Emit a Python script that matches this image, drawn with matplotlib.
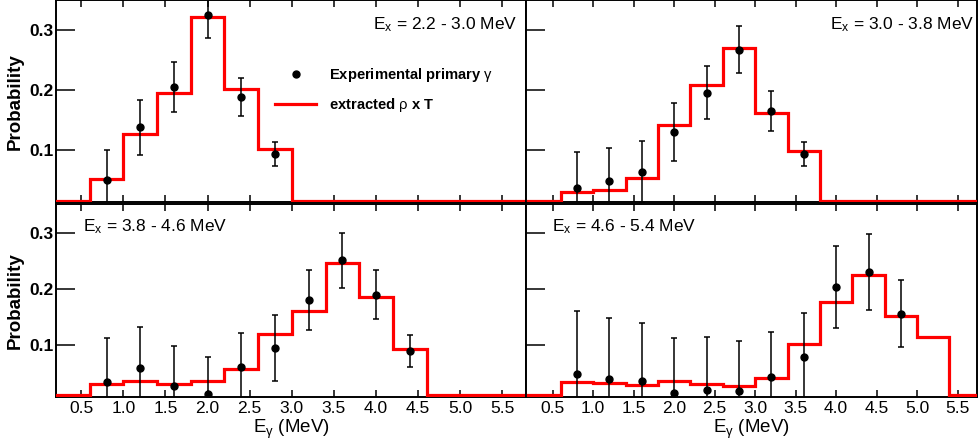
import matplotlib
matplotlib.use("Agg")
import matplotlib.pyplot as plt
from matplotlib.lines import Line2D
import numpy as np

plt.rcParams['font.family'] = ['Liberation Sans', 'DejaVu Sans']
plt.rcParams['mathtext.fontset'] = 'custom'
plt.rcParams['mathtext.rm'] = 'Liberation Sans'
plt.rcParams['mathtext.it'] = 'Liberation Sans:italic'
plt.rcParams['mathtext.bf'] = 'Liberation Sans:bold'

# bin edges of the extracted rho x T histograms (MeV)
edges = [0.2, 0.6, 1.0, 1.4, 1.8, 2.2, 2.6, 3.0, 3.4, 3.8, 4.2, 4.6, 5.0, 5.4, 5.8]

# Ex = 2.2 - 3.0 MeV
hist_a = [0, 0.051, 0.127, 0.195, 0.323, 0.202, 0.101, 0, 0, 0, 0, 0, 0, 0]
eg_a = [0.8, 1.2, 1.6, 2.0, 2.4, 2.8]
p_a = [0.050, 0.138, 0.205, 0.326, 0.188, 0.093]
err_a = [0.050, 0.046, 0.042, 0.039, 0.032, 0.020]

# Ex = 3.0 - 3.8 MeV
hist_b = [0, 0.030, 0.0325, 0.053, 0.142, 0.209, 0.270, 0.1625, 0.098, 0, 0, 0, 0, 0]
eg_b = [0.8, 1.2, 1.6, 2.0, 2.4, 2.8, 3.2, 3.6]
p_b = [0.036, 0.048, 0.063, 0.130, 0.196, 0.268, 0.165, 0.093]
err_b = [0.060, 0.056, 0.052, 0.048, 0.044, 0.040, 0.033, 0.020]

# Ex = 3.8 - 4.6 MeV
hist_c = [0, 0.031, 0.037, 0.031, 0.036, 0.058, 0.120, 0.1615, 0.247, 0.185, 0.093, 0, 0, 0]
eg_c = [0.8, 1.2, 1.6, 2.0, 2.4, 2.8, 3.2, 3.6, 4.0, 4.4]
p_c = [0.035, 0.060, 0.028, 0.0135, 0.061, 0.095, 0.180, 0.251, 0.190, 0.090]
err_c = [0.078, 0.073, 0.070, 0.065, 0.061, 0.058, 0.053, 0.049, 0.043, 0.029]

# Ex = 4.6 - 5.4 MeV
hist_d = [0, 0.034, 0.0325, 0.0295, 0.037, 0.031, 0.028, 0.041, 0.102, 0.177, 0.225, 0.1515, 0.115, 0]
eg_d = [0.8, 1.2, 1.6, 2.0, 2.4, 2.8, 3.2, 3.6, 4.0, 4.4, 4.8]
p_d = [0.048, 0.040, 0.037, 0.015, 0.021, 0.019, 0.044, 0.079, 0.203, 0.230, 0.156]
err_d = [0.113, 0.108, 0.102, 0.098, 0.093, 0.088, 0.080, 0.078, 0.073, 0.068, 0.060]

labels = ['2.2 - 3.0', '3.0 - 3.8', '3.8 - 4.6', '4.6 - 5.4']
xticks = [0.5, 1, 1.5, 2, 2.5, 3, 3.5, 4, 4.5, 5, 5.5]
yticks = [0.1, 0.2, 0.3]

W, H = 979, 447
fig = plt.figure(figsize=(W / 100, H / 100), dpi=100)

def px_axes(x0, x1, ytop, ybot):
    return fig.add_axes([x0 / W, 1 - ybot / H, (x1 - x0) / W, (ybot - ytop) / H])

axes = [px_axes(56, 526, 0, 202.5), px_axes(526, 977, 0, 202.5),
        px_axes(56, 526, 204, 397), px_axes(526, 977, 204, 397)]
xlims = [(0.2, 5.78), (0.17, 5.74), (0.2, 5.78), (0.17, 5.74)]
ylims = [(0.012, 0.351), (0.012, 0.351), (0.008, 0.351), (0.008, 0.351)]
hists = [hist_a, hist_b, hist_c, hist_d]
pts = [(eg_a, p_a, err_a), (eg_b, p_b, err_b), (eg_c, p_c, err_c), (eg_d, p_d, err_d)]

for i, ax in enumerate(axes):
    ylo, yhi = ylims[i]
    # ROOT draws empty bins just on the lower frame edge
    h = np.clip(np.array(hists[i]), ylo + 0.0028, None)
    ax.stairs(h, edges, color='red', lw=2.3, zorder=4.5)
    x, y, e = pts[i]
    ax.errorbar(x, y, yerr=e, fmt='o', color='black', ms=5, elinewidth=1.1,
                capsize=2.5, capthick=1.1, zorder=5)
    ax.set_xlim(*xlims[i])
    ax.set_ylim(ylo, yhi)
    ax.set_xticks(xticks)
    ax.set_yticks(yticks)
    ax.tick_params(axis='x', direction='in', length=5, width=1.1, top=True,
                   labelsize=12.5, pad=3)
    ax.tick_params(axis='y', direction='in', length=14, width=1.1,
                   labelsize=12.5, pad=2)
    for lab in ax.get_yticklabels():
        lab.set_fontweight('bold')
    for s in ax.spines.values():
        s.set_linewidth(1.4)
        s.set_zorder(4)
    if i < 2:
        ax.set_xticklabels([])
    else:
        ax.set_xlabel(r'E$_{\mathrm{\gamma}}$ (MeV)', fontsize=13.5, labelpad=1)
    if i % 2 == 1:
        ax.set_yticklabels([])
    else:
        ax.set_ylabel('Probability', fontsize=13.5, fontweight='bold', va='center')
        ax.yaxis.set_label_coords(-0.086, 0.5)
    txt = r'E$_{\mathrm{x}}$ = ' + labels[i] + ' MeV'
    if i < 2:
        ax.text(0.982 if i == 0 else 0.993, 0.854, txt, transform=ax.transAxes,
                ha='right', va='baseline', fontsize=12.5)
    else:
        ax.text(0.057, 0.856, txt, transform=ax.transAxes,
                ha='left', va='baseline', fontsize=12.5)

handles = [Line2D([], [], marker='o', ls='none', color='black', ms=5),
           Line2D([], [], color='red', lw=2.3)]
axes[0].legend(handles, [r'Experimental primary $\mathrm{\gamma}$', r'extracted $\mathrm{\rho}$ x T'],
               loc='upper left', bbox_to_anchor=(0.467, 0.675), frameon=False,
               borderpad=0, borderaxespad=0, handlelength=2.75, handletextpad=0.9,
               labelspacing=0.85, prop={'weight': 'bold', 'size': 10.6})

fig.savefig('out.png', dpi=100)
